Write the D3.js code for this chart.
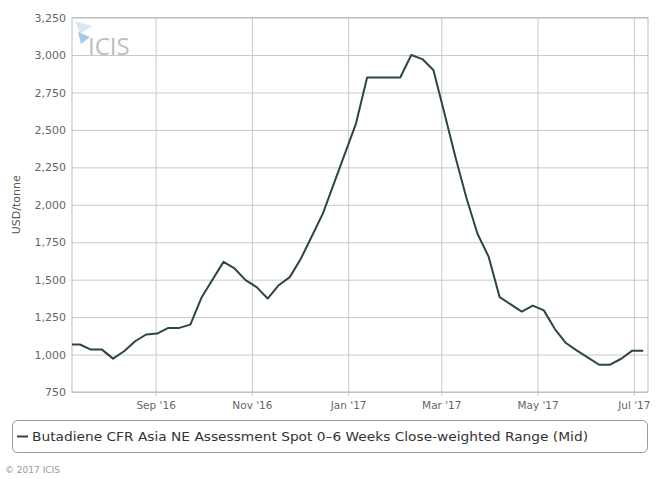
<!DOCTYPE html>
<html><head><meta charset="utf-8">
<script src="https://cdn.jsdelivr.net/npm/d3@7"></script>
<style>
html,body{margin:0;padding:0;background:#fff;}
svg{display:block;}
</style></head>
<body>
<svg id="chart" width="659" height="479"></svg>
<script>
const dates = ["2016-07-08","2016-07-15","2016-07-22","2016-07-29","2016-08-05","2016-08-12","2016-08-19","2016-08-26",
"2016-09-02","2016-09-09","2016-09-16","2016-09-23","2016-09-30","2016-10-07","2016-10-14","2016-10-21","2016-10-28",
"2016-11-04","2016-11-11","2016-11-18","2016-11-25","2016-12-02","2016-12-09","2016-12-16","2016-12-23","2016-12-30",
"2017-01-06","2017-01-13","2017-01-20","2017-01-27","2017-02-03","2017-02-10","2017-02-17","2017-02-24",
"2017-03-03","2017-03-10","2017-03-17","2017-03-24","2017-03-31","2017-04-07","2017-04-14","2017-04-21","2017-04-28",
"2017-05-05","2017-05-12","2017-05-19","2017-05-26","2017-06-02","2017-06-09","2017-06-16","2017-06-23","2017-06-30","2017-07-07"];
const values = [1067,1067,1033,1033,973,1022,1089,1134,
1140,1178,1178,1200,1379,1500,1619,1575,1497,
1450,1374,1463,1517,1640,1790,1943,2143,2344,
2544,2850,2850,2850,2850,3000,2973,2900,
2611,2317,2044,1805,1654,1383,1335,1287,1327,
1295,1170,1077,1026,980,932,932,972,1026,1026];
const yTicks = [750,1000,1250,1500,1750,2000,2250,2500,2750,3000,3250];
const xTickDates = ["2016-09-01","2016-11-01","2017-01-01","2017-03-01","2017-05-01","2017-07-01"];
const seriesName = "Butadiene CFR Asia NE Assessment Spot 0\u20136 Weeks Close-weighted Range (Mid)";
const yTitle = "USD/tonne";
const credit = "\u00a9 2017 ICIS";
const xDomain = ["2016-07-10","2017-07-10"];

const parse = d3.utcParse("%Y-%m-%d");
const data = dates.map((d,i)=>({date:parse(d), value:values[i]}));

const svg = d3.select("#chart");
const m = {left:72, right:11, top:17.6, bottom:87};
const W = 659, H = 479;
const pw = W - m.left - m.right, ph = H - m.top - m.bottom;

const x = d3.scaleUtc().domain(xDomain.map(parse)).range([m.left, m.left+pw]);
const y = d3.scaleLinear().domain([750,3250]).range([m.top+ph, m.top]);

const font = "'DejaVu Sans', 'Lucida Grande', Verdana, sans-serif";

// gridlines
const gY = svg.append("g")
  .attr("transform",`translate(${m.left},0)`)
  .call(d3.axisLeft(y).tickValues(yTicks).tickSize(-pw).tickPadding(6).tickFormat(d3.format(",")));
gY.select(".domain").remove();
gY.selectAll(".tick line").attr("stroke","#c8c8c8").attr("stroke-width",1);
gY.selectAll(".tick text").attr("fill","#666").style("font-family",font).style("font-size","11px");

const gX = svg.append("g")
  .attr("transform",`translate(0,${m.top+ph})`)
  .call(d3.axisBottom(x).tickValues(xTickDates.map(parse)).tickSize(-ph).tickPadding(10).tickFormat(d3.utcFormat("%b '%y")));
gX.select(".domain").remove();
gX.selectAll(".tick line").attr("stroke","#c8c8c8").attr("stroke-width",1).attr("y2",-ph).attr("y1",4);
gX.selectAll(".tick text").attr("fill","#666").style("font-family",font).style("font-size","10.5px");

// plot border
svg.append("rect").attr("x",m.left).attr("y",m.top).attr("width",pw).attr("height",ph)
  .attr("fill","none").attr("stroke","#bbb").attr("stroke-width",1);

// watermark logo
const logo = svg.append("g").attr("opacity",0.9);
logo.append("path").attr("d","M75,21 L92,26 L80,34 Z").attr("fill","#d5e6f0");
logo.append("path").attr("d","M78,32 L90,37 L81,44 Z").attr("fill","#9cc6dd");
logo.append("text").attr("x",88).attr("y",55).text("ICIS")
  .attr("fill","#b8b8b8").style("font-family","'Open Sans', 'DejaVu Sans', sans-serif").style("font-size","24px");

// clip
svg.append("clipPath").attr("id","clip").append("rect")
  .attr("x",m.left).attr("y",m.top-5).attr("width",pw).attr("height",ph+10);

svg.append("path").datum(data)
  .attr("clip-path","url(#clip)")
  .attr("fill","none").attr("stroke","#2e4548").attr("stroke-width",2).attr("stroke-linejoin","round")
  .attr("d", d3.line().x(d=>x(d.date)).y(d=>y(d.value)));

// y title
svg.append("text").attr("transform",`translate(20,${m.top+ph/2}) rotate(-90)`)
  .attr("text-anchor","middle").text(yTitle)
  .attr("fill","#555").style("font-family",font).style("font-size","11px");

// legend
svg.append("rect").attr("x",12.5).attr("y",420.5).attr("width",635).attr("height",32).attr("rx",5)
  .attr("fill","#fff").attr("stroke","#999");
svg.append("line").attr("x1",17).attr("x2",28).attr("y1",436.5).attr("y2",436.5)
  .attr("stroke","#2e4548").attr("stroke-width",2);
const lt = svg.append("text").attr("x",32).attr("y",441).text(seriesName)
  .attr("fill","#333").style("font-family",font).style("font-size","13px");
const tl = lt.node().getComputedTextLength();
if (tl > 0) lt.attr("textLength",556).attr("lengthAdjust","spacingAndGlyphs");

// credit
svg.append("text").attr("x",5).attr("y",473).text(credit)
  .attr("fill","#999").style("font-family",font).style("font-size","9px");
</script>
</body></html>
